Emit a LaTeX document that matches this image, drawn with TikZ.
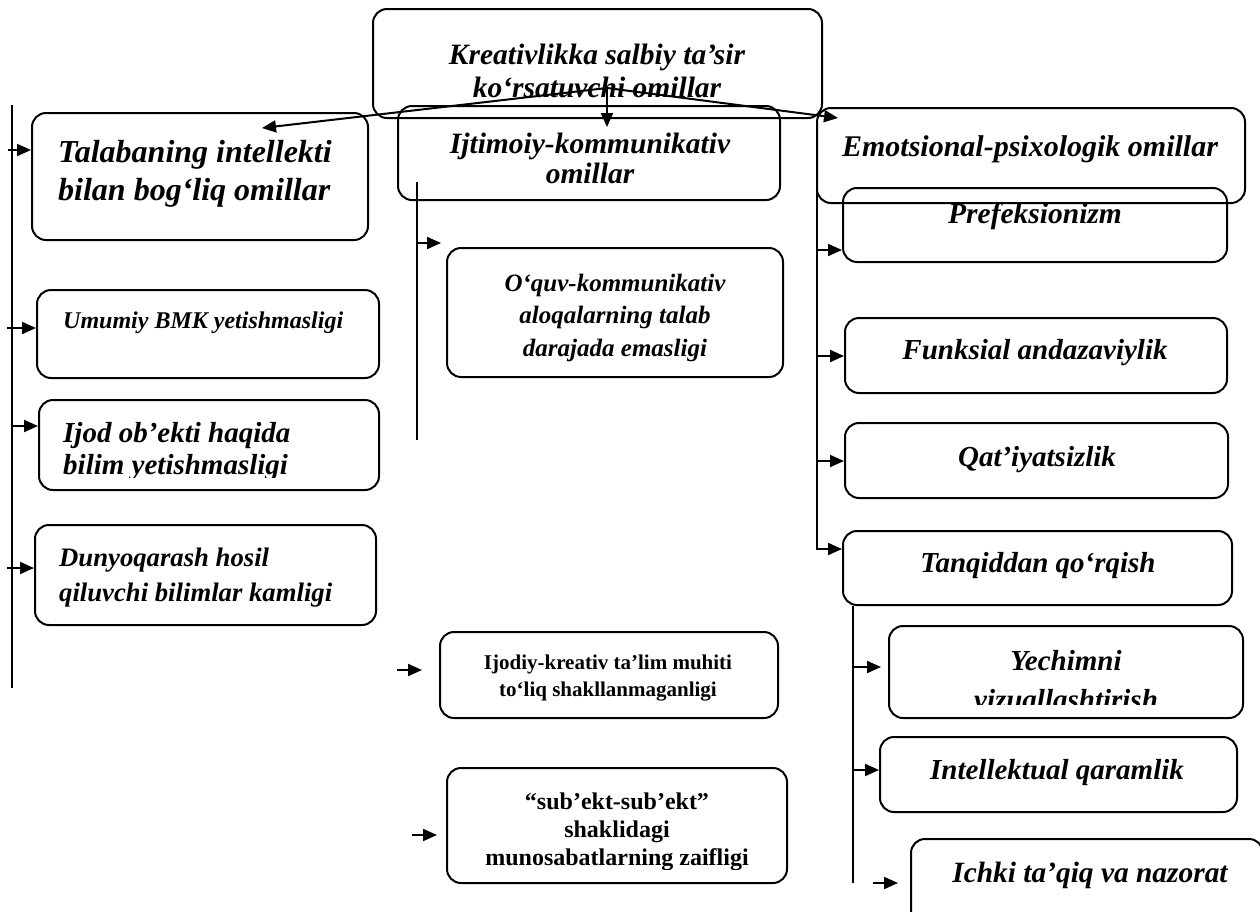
\documentclass[tikz,border=0pt]{standalone}
\usepackage{fontspec}
\setmainfont{Liberation Serif}
\usetikzlibrary{arrows.meta,fit}
\tikzset{
  bx/.style={draw, rounded corners=14pt, line width=2pt, inner sep=0pt},
  arr/.style={line width=2pt, -{Triangle[length=14pt,width=12pt]}},
  ln/.style={line width=2pt},
  tx/.style={inner sep=0pt, font=\bfseries\itshape},
  tu/.style={inner sep=0pt, font=\bfseries},
}
\newcommand\fs[2]{\fontsize{#1}{#2}\selectfont}
\begin{document}
\begin{tikzpicture}[x=1pt,y=-1pt]
\useasboundingbox (0,0) rectangle (1260,911);
\clip (0,0) rectangle (1260,911);

% boxes
\node[bx, fit={(373,9) (822,118)}] (top) {};
\node[bx, fit={(32,113) (368,240)}] (tal) {};
\node[bx, fit={(37,290) (379,378)}] (umu) {};
\node[bx, fit={(39,400) (379,490)}] (ijod) {};
\node[bx, fit={(35,525) (376,625)}] (dun) {};
\node[bx, fit={(398,106) (780,200)}] (ijt) {};
\node[bx, fit={(447,248) (783,377)}] (oquv) {};
\node[bx, fit={(440,632) (778,718)}] (ijodiy) {};
\node[bx, fit={(447,768) (787,883)}] (sub) {};
\node[bx, fit={(817,108) (1245,203)}] (emo) {};
\node[bx, fit={(843,188) (1227,262)}] (pref) {};
\node[bx, fit={(845,318) (1227,393)}] (funk) {};
\node[bx, fit={(845,423) (1228,498)}] (qat) {};
\node[bx, fit={(843,531) (1232,605)}] (tanq) {};
\node[bx, fit={(889,626) (1243,718)}] (yech) {};
\node[bx, fit={(880,737) (1237,812)}] (intel) {};
\node[bx, fit={(911,839) (1263,930)}] (ichki) {};

% texts
\node[tx, align=center, font=\bfseries\itshape\fs{29.5}{33}] (ttop) at (597,70.5)
  {Kreativlikka salbiy ta’sir\\ko‘rsatuvchi omillar};
\node[tx, align=left, anchor=west, font=\bfseries\itshape\fs{32}{38}] (ttal) at (58,174)
  {Talabaning intellekti\\bilan bog‘liq omillar};
\node[tx, anchor=west, font=\bfseries\itshape\fs{24}{28}] (tumu) at (63,323)
  {Umumiy BMK yetishmasligi};
\begin{scope}
\clip (39,400) rectangle (379,477);
\node[tx, align=left, anchor=west, font=\bfseries\itshape\fs{29}{32}] (tijod) at (63,452)
  {Ijod ob’ekti haqida\\bilim yetishmasligi};
\end{scope}
\node[tx, align=left, anchor=west, font=\bfseries\itshape\fs{26.7}{35}] (tdun) at (59,577.5)
  {Dunyoqarash hosil\\qiluvchi bilimlar kamligi};
\node[tx, align=center, font=\bfseries\itshape\fs{29.5}{30}] (tijt) at (590,158)
  {Ijtimoiy-kommunikativ\\omillar};
\begin{scope}
\clip (447,248) rectangle (783,361);
\node[tx, align=center, font=\bfseries\itshape\fs{25}{32.5}] (toquv) at (615,317.5)
  {O‘quv-kommunikativ\\aloqalarning talab\\darajada emasligi};
\end{scope}
\node[tu, align=center, font=\bfseries\fs{21}{27}] (tijodiy) at (608,678.5)
  {Ijodiy-kreativ ta’lim muhiti\\to‘liq shakllanmaganligi};
\begin{scope}
\clip (447,768) rectangle (787,869);
\node[tu, align=center, font=\bfseries\fs{24}{28}] (tsub) at (617,832)
  {“sub’ekt-sub’ekt”\\shaklidagi\\munosabatlarning zaifligi};
\end{scope}
\node[tx, font=\bfseries\itshape\fs{30}{34}] (temo) at (1030,149) {Emotsional-psixologik omillar};
\node[tx, font=\bfseries\itshape\fs{29.5}{34}] (tpref) at (1035,216) {Prefeksionizm};
\node[tx, font=\bfseries\itshape\fs{29}{34}] (tfunk) at (1035,353) {Funksial andazaviylik};
\node[tx, font=\bfseries\itshape\fs{29}{34}] (tqat) at (1037,460) {Qat’iyatsizlik};
\node[tx, font=\bfseries\itshape\fs{29}{34}] (ttanq) at (1038,566) {Tanqiddan qo‘rqish};
\begin{scope}
\clip (889,626) rectangle (1243,704);
\node[tx, align=center, font=\bfseries\itshape\fs{29}{39}] (tyech) at (1066,680)
  {Yechimni\\vizuallashtirish};
\end{scope}
\node[tx, font=\bfseries\itshape\fs{29}{34}] (tintel) at (1057,773) {Intellektual qaramlik};
\node[tx, font=\bfseries\itshape\fs{29.4}{34}] (tichki) at (1090,875) {Ichki ta’qiq va nazorat};

% top arrows
\coordinate (fork) at (607,88);
\coordinate (tipL) at (262,128);
\coordinate (tipM) at (607,127);
\coordinate (tipR) at (838,118);
\draw[arr] (fork) -- (tipL);
\draw[arr] (fork) -- (tipM);
\draw[arr] (fork) -- (tipR);

% left column
\coordinate (L0) at (12,105);
\coordinate (L1) at (12,688);
\draw[ln] (L0) -- (L1);
\coordinate (a1) at (8,150);
\coordinate (a2) at (7,328);
\coordinate (a3) at (12,426);
\coordinate (a4) at (7,568);
\draw[arr] (a1) -- (tal.west |- a1);
\draw[arr] (a2) -- (umu.west |- a2);
\draw[arr] (a3) -- (ijod.west |- a3);
\draw[arr] (a4) -- (dun.west |- a4);

% middle column
\coordinate (M0) at (417,182);
\coordinate (M1) at (417,440);
\draw[ln] (M0) -- (M1);
\coordinate (m1) at (417,243);
\draw[arr] (m1) -- ([xshift=-5pt]oquv.west |- m1);
\coordinate (m2) at (397,670);
\draw[arr] (m2) -- ([xshift=-17pt]ijodiy.west |- m2);
\coordinate (m3) at (412,835);
\draw[arr] (m3) -- ([xshift=-9pt]sub.west |- m3);

% right column
\coordinate (R0) at (817,182);
\coordinate (r1) at (817,250);
\coordinate (r2) at (817,356);
\coordinate (r3) at (817,461);
\coordinate (r4) at (817,549);
\draw[arr] (R0) |- (tanq.west |- r4);
\draw[arr] (r1) -- (pref.west |- r1);
\draw[arr] (r2) -- (funk.west |- r2);
\draw[arr] (r3) -- (qat.west |- r3);

% sub-column under Tanqiddan
\coordinate (T1) at (853,883);
\draw[ln] (tanq.south -| T1) -- (T1);
\coordinate (s1) at (853,667);
\coordinate (s2) at (853,770);
\coordinate (s3) at (873,883);
\draw[arr] (s1) -- ([xshift=-7pt]yech.west |- s1);
\draw[arr] (s2) -- (intel.west |- s2);
\draw[arr] (s3) -- ([xshift=-12pt]ichki.west |- s3);
\end{tikzpicture}
\end{document}
